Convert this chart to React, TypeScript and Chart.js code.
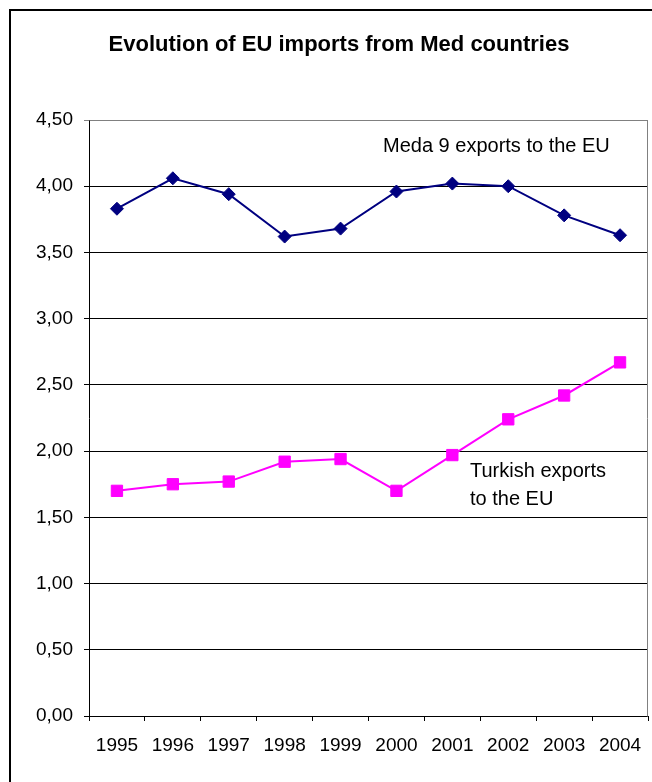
import React, { useEffect, useRef } from "react";
import { Chart, registerables } from "chart.js";

Chart.register(...registerables);

const years = ["1995", "1996", "1997", "1998", "1999", "2000", "2001", "2002", "2003", "2004"];
const medaExports = [3.83, 4.06, 3.94, 3.62, 3.68, 3.96, 4.02, 4.0, 3.78, 3.63];
const turkishExports = [1.7, 1.75, 1.77, 1.92, 1.94, 1.7, 1.97, 2.24, 2.42, 2.67];
const chartTitle = "Evolution of EU imports from Med countries";
const medaLabel = "Meda 9 exports to the EU";
const turkishLabel = ["Turkish exports", "to the EU"];

const FONT = "'Liberation Sans', Arial, sans-serif";

const decorPlugin = {
  id: "decor",
  afterDraw(chart: any) {
    const { ctx, chartArea } = chart;
    ctx.save();
    // outer frame
    ctx.strokeStyle = "#000";
    ctx.lineWidth = 2;
    ctx.beginPath();
    ctx.moveTo(10, 782);
    ctx.lineTo(10, 10);
    ctx.lineTo(660, 10);
    ctx.stroke();
    // plot area border (top/right)
    ctx.strokeStyle = "#808080";
    ctx.lineWidth = 1;
    ctx.beginPath();
    ctx.moveTo(Math.round(chartArea.left) + 0.5, Math.round(chartArea.top) + 0.5);
    ctx.lineTo(Math.round(chartArea.right) - 0.5, Math.round(chartArea.top) + 0.5);
    ctx.lineTo(Math.round(chartArea.right) - 0.5, Math.round(chartArea.bottom) + 0.5);
    ctx.stroke();
    // title
    ctx.fillStyle = "#000";
    ctx.textAlign = "center";
    ctx.textBaseline = "alphabetic";
    ctx.font = `bold 22px ${FONT}`;
    ctx.fillText(chartTitle, 339, 51);
    // annotations
    ctx.textAlign = "left";
    ctx.font = `20px ${FONT}`;
    ctx.fillText(medaLabel, 383, 152);
    ctx.fillText(turkishLabel[0], 470, 477);
    ctx.fillText(turkishLabel[1], 470, 505);
    ctx.restore();
  },
};

export default function App() {
  const canvasRef = useRef<HTMLCanvasElement | null>(null);

  useEffect(() => {
    if (!canvasRef.current) return;
    const chart = new Chart(canvasRef.current, {
      type: "line",
      data: {
        labels: years,
        datasets: [
          {
            label: medaLabel,
            data: medaExports,
            borderColor: "#000080",
            backgroundColor: "#000080",
            borderWidth: 2,
            pointStyle: "rectRot",
            pointRadius: 6.5,
            pointBorderWidth: 1,
            pointBackgroundColor: "#000080",
            pointBorderColor: "#000080",
            tension: 0,
          },
          {
            label: turkishLabel.join(" "),
            data: turkishExports,
            borderColor: "#FF00FF",
            backgroundColor: "#FF00FF",
            borderWidth: 2,
            pointStyle: "rect",
            pointRadius: 8,
            pointBorderWidth: 1,
            pointBackgroundColor: "#FF00FF",
            pointBorderColor: "#FF00FF",
            tension: 0,
          },
        ],
      },
      options: {
        responsive: false,
        animation: false,
        layout: { padding: { top: 120, right: 0, left: 0, bottom: 0 } },
        plugins: {
          legend: { display: false },
          title: { display: false },
          tooltip: { enabled: false },
        },
        scales: {
          x: {
            type: "category",
            offset: true,
            grid: {
              offset: true,
              drawOnChartArea: false,
              drawTicks: true,
              tickLength: 5,
              color: "#000",
            },
            border: { color: "#000", width: 1 },
            ticks: {
              color: "#000",
              font: { family: FONT, size: 19 },
              padding: 13,
              maxRotation: 0,
              autoSkip: false,
            },
            afterFit: (s: any) => {
              s.height = 66;
            },
          },
          y: {
            min: 0,
            max: 4.5,
            grid: {
              color: (c: any) => (c.tick && c.tick.value === 4.5 ? "#808080" : "#000"),
              tickLength: 5,
              drawTicks: true,
            },
            border: { color: "#000", width: 1 },
            ticks: {
              stepSize: 0.5,
              color: "#000",
              font: { family: FONT, size: 19 },
              padding: 11,
              callback: (v: any) => Number(v).toFixed(2).replace(".", ","),
            },
            afterFit: (s: any) => {
              s.width = 89;
            },
          },
        },
      },
      plugins: [decorPlugin],
    });
    return () => chart.destroy();
  }, []);

  return (
    <div
      style={{
        position: "fixed",
        left: 0,
        top: 0,
        width: 652,
        height: 782,
        overflow: "hidden",
        background: "#fff",
      }}
    >
      <canvas ref={canvasRef} width={657} height={782} style={{ display: "block" }} />
    </div>
  );
}
